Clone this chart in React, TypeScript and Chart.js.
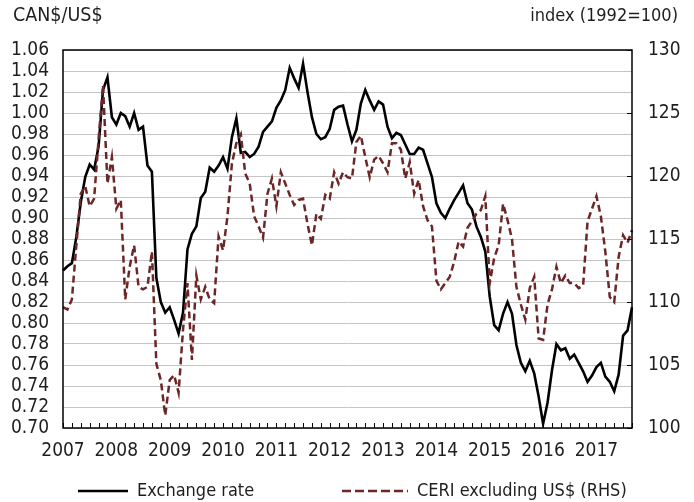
import React, { useEffect, useRef } from 'react';
import { Chart, registerables } from 'chart.js';

Chart.register(...registerables);

// ---- Data (monthly, Jan 2007 – Sep 2017) ----
const START_YEAR = 2007;
const yearLabels = ['2007', '2008', '2009', '2010', '2011', '2012', '2013', '2014', '2015', '2016', '2017'];

const exchangeRate = [
  0.850, 0.854, 0.857, 0.882, 0.915, 0.939, 0.951, 0.946, 0.968, 1.022, 1.034, 0.996,
  0.989, 1.000, 0.997, 0.987, 1.000, 0.984, 0.987, 0.950, 0.944, 0.843, 0.820, 0.810,
  0.815, 0.803, 0.790, 0.810, 0.870, 0.885, 0.892, 0.919, 0.925, 0.948, 0.944, 0.950,
  0.958, 0.947, 0.977, 0.995, 0.962, 0.963, 0.958, 0.961, 0.968, 0.982, 0.987, 0.992,
  1.005, 1.012, 1.022, 1.043, 1.033, 1.024, 1.047, 1.020, 0.996, 0.980, 0.975, 0.977,
  0.985, 1.003, 1.006, 1.007, 0.989, 0.973, 0.984, 1.009, 1.022, 1.012, 1.003, 1.011,
  1.008, 0.987, 0.976, 0.981, 0.979, 0.970, 0.961, 0.961, 0.967, 0.965, 0.952, 0.939,
  0.914, 0.905, 0.900, 0.909, 0.917, 0.924, 0.931, 0.914, 0.908, 0.892, 0.882, 0.868,
  0.825, 0.798, 0.793, 0.809, 0.820, 0.809, 0.779, 0.762, 0.754, 0.764, 0.752, 0.730,
  0.704, 0.724, 0.755, 0.780, 0.774, 0.776, 0.766, 0.770, 0.762, 0.754, 0.744, 0.750,
  0.758, 0.762, 0.749, 0.744, 0.735, 0.751, 0.788, 0.793, 0.815,
];

const ceriExUS = [
  109.6, 109.4, 110.2, 114.5, 118.6, 119.2, 117.6, 118.2, 122.9, 127.2, 119.4, 121.5,
  117.4, 118.1, 110.2, 112.8, 114.5, 111.2, 111.0, 111.2, 114.0, 105.1, 103.8, 101.0,
  103.8, 104.2, 102.8, 107.8, 111.5, 105.4, 112.1, 110.2, 111.2, 110.2, 109.9, 115.2,
  114.1, 116.8, 121.0, 122.6, 123.3, 120.2, 119.4, 116.8, 116.0, 115.1, 118.6, 119.8,
  117.6, 120.3, 119.4, 118.5, 117.7, 118.1, 118.2, 116.2, 114.5, 117.0, 116.6, 118.5,
  118.2, 120.3, 119.4, 120.3, 119.9, 119.8, 122.7, 123.2, 121.5, 119.9, 121.3, 121.6,
  121.0, 120.3, 122.6, 122.6, 122.1, 119.8, 121.1, 118.6, 119.7, 117.6, 116.5, 116.0,
  111.7, 111.0, 111.5, 112.0, 113.2, 114.8, 114.4, 115.9, 116.4, 117.0, 117.3, 118.4,
  111.5, 113.5, 114.5, 117.8, 116.5, 115.0, 111.2, 109.8, 108.6, 111.1, 112.0, 107.1,
  107.0, 109.8, 111.0, 112.8, 111.5, 112.1, 111.5, 111.5, 111.1, 111.3, 116.4, 117.4,
  118.4, 116.8, 114.0, 110.4, 110.0, 113.6, 115.3, 114.7, 115.7,
];

const monthLabels = exchangeRate.map((_, i) => {
  const y = START_YEAR + Math.floor(i / 12);
  const m = (i % 12) + 1;
  return `${y}-${m < 10 ? '0' : ''}${m}`;
});

const LEFT_MIN = 0.70, LEFT_MAX = 1.06, LEFT_STEP = 0.02;
const RIGHT_MIN = 100, RIGHT_MAX = 130, RIGHT_STEP = 5;

const seriesNames = ['Exchange rate', 'CERI excluding US$ (RHS)'];
const leftTitle = 'CAN$/US$';
const rightTitle = 'index (1992=100)';

const FONT = '"DejaVu Sans Condensed", "Liberation Sans Narrow", sans-serif';
const TEXT = '#1e1e1e';
const CERI_COLOR = '#6c2627';
const TICK_SIZE = 19;

const framePlugin = {
  id: 'frame',
  afterDatasetsDraw(chart: any) {
    const { ctx, chartArea } = chart;
    const { left, right, top, bottom } = chartArea;
    ctx.save();
    ctx.strokeStyle = '#000';
    ctx.lineWidth = 1.5;
    ctx.strokeRect(left, top, right - left, bottom - top);
    const xs = chart.scales.x;
    ctx.lineWidth = 1;
    ctx.beginPath();
    for (let i = 0; i < monthLabels.length; i += 2) {
      const px = Math.round(xs.getPixelForValue(i)) + 0.5;
      ctx.moveTo(px, bottom);
      ctx.lineTo(px, bottom - 5);
    }
    const ys = chart.scales.y1;
    for (let v = RIGHT_MIN; v <= RIGHT_MAX; v += RIGHT_STEP) {
      const py = Math.round(ys.getPixelForValue(v)) + 0.5;
      ctx.moveTo(right, py);
      ctx.lineTo(right - 5, py);
    }
    ctx.stroke();
    ctx.restore();
  },
};

function App() {
  const canvasRef = useRef<HTMLCanvasElement | null>(null);

  useEffect(() => {
    document.body.style.margin = '0';
    const canvas = canvasRef.current;
    if (!canvas) return;
    const chart = new Chart(canvas, {
      type: 'line',
      data: {
        labels: monthLabels,
        datasets: [
          {
            label: seriesNames[0],
            data: exchangeRate,
            yAxisID: 'y',
            borderColor: '#000',
            backgroundColor: '#000',
            borderWidth: 2.6,
            pointRadius: 0,
            tension: 0,
            order: 1,
          },
          {
            label: seriesNames[1],
            data: ceriExUS,
            yAxisID: 'y1',
            borderColor: CERI_COLOR,
            backgroundColor: CERI_COLOR,
            borderWidth: 2.5,
            borderDash: [7, 4],
            pointRadius: 0,
            tension: 0,
            order: 0,
          },
        ],
      },
      options: {
        responsive: false,
        animation: false,
        devicePixelRatio: 1,
        layout: { padding: { top: 50, left: 0, right: 0, bottom: 0 } },
        plugins: {
          legend: { display: false },
          tooltip: { enabled: false },
        },
        scales: {
          x: {
            type: 'category',
            offset: false,
            grid: { display: false, drawTicks: false },
            border: { display: false },
            ticks: {
              autoSkip: false,
              maxRotation: 0,
              minRotation: 0,
              padding: 12,
              color: TEXT,
              font: { family: FONT, size: TICK_SIZE },
              callback: (_v: any, i: number) => (i % 12 === 0 ? yearLabels[i / 12] : ''),
            },
            afterFit: (s: any) => { s.height = 74; },
          },
          y: {
            position: 'left',
            min: LEFT_MIN,
            max: LEFT_MAX,
            grid: { color: '#c4c4c4', lineWidth: 1, drawTicks: false },
            border: { display: false },
            ticks: {
              stepSize: LEFT_STEP,
              autoSkip: false,
              padding: 14,
              color: TEXT,
              font: { family: FONT, size: TICK_SIZE },
              callback: (v: any) => Number(v).toFixed(2),
            },
            afterFit: (s: any) => { s.width = 63; },
          },
          y1: {
            position: 'right',
            min: RIGHT_MIN,
            max: RIGHT_MAX,
            grid: { display: false, drawTicks: false },
            border: { display: false },
            ticks: {
              stepSize: RIGHT_STEP,
              autoSkip: false,
              padding: 16,
              color: TEXT,
              font: { family: FONT, size: TICK_SIZE },
            },
            afterFit: (s: any) => { s.width = 62; },
          },
        },
      },
      plugins: [framePlugin],
    });
    return () => chart.destroy();
  }, []);

  const textStyle: React.CSSProperties = {
    position: 'absolute',
    fontFamily: FONT,
    fontSize: 18,
    color: TEXT,
    lineHeight: '24px',
    whiteSpace: 'nowrap',
  };

  return (
    <div style={{ position: 'relative', width: 694, height: 502, background: '#fff' }}>
      <canvas ref={canvasRef} width={694} height={502} style={{ display: 'block' }} />
      <div style={{ ...textStyle, fontSize: 19.5, left: 13, top: 3 }}>{leftTitle}</div>
      <div style={{ ...textStyle, right: 16, top: 3 }}>{rightTitle}</div>
      <div style={{ ...textStyle, left: 0, top: 478, width: 694, height: 24 }}>
        <svg style={{ position: 'absolute', left: 78, top: 11 }} width={50} height={4}>
          <line x1={0} y1={2} x2={50} y2={2} stroke="#000" strokeWidth={2.5} />
        </svg>
        <span style={{ position: 'absolute', left: 137, top: 0 }}>{seriesNames[0]}</span>
        <svg style={{ position: 'absolute', left: 342, top: 11 }} width={66} height={4}>
          <line x1={0} y1={2} x2={66} y2={2} stroke={CERI_COLOR} strokeWidth={2.5} strokeDasharray="9 4" />
        </svg>
        <span style={{ position: 'absolute', left: 417, top: 0 }}>{seriesNames[1]}</span>
      </div>
    </div>
  );
}

export default App;
